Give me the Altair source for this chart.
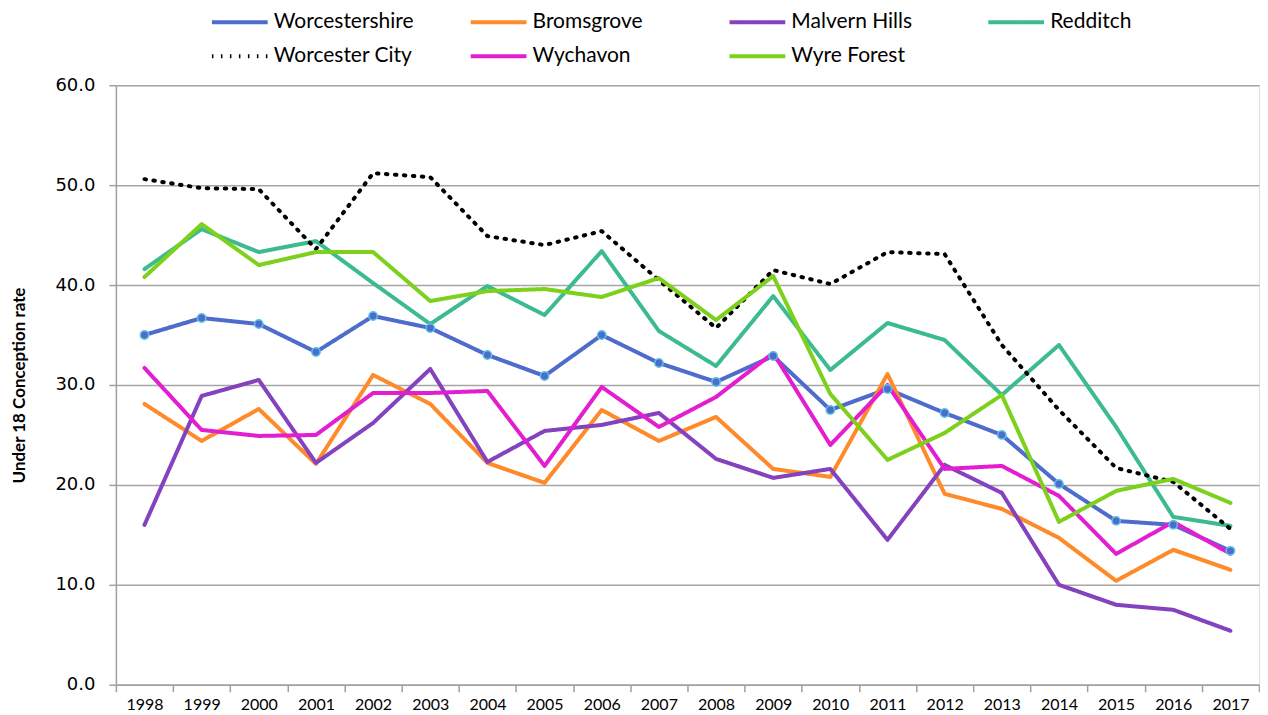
import altair as alt
import pandas as pd

years = [str(y) for y in range(1998, 2018)]

series = ["Worcestershire", "Bromsgrove", "Malvern Hills", "Redditch",
          "Worcester City", "Wychavon", "Wyre Forest"]

worcestershire = [35.0, 36.7, 36.1, 33.3, 36.9, 35.7, 33.0, 30.9, 35.0, 32.2,
                  30.3, 32.9, 27.5, 29.6, 27.2, 25.0, 20.1, 16.4, 16.0, 13.4]
bromsgrove = [28.1, 24.4, 27.6, 22.1, 31.0, 28.1, 22.2, 20.2, 27.5, 24.4,
              26.8, 21.6, 20.8, 31.1, 19.1, 17.6, 14.7, 10.4, 13.5, 11.5]
malvern_hills = [16.0, 28.9, 30.5, 22.2, 26.2, 31.6, 22.3, 25.4, 26.0, 27.2,
                 22.6, 20.7, 21.6, 14.5, 22.0, 19.2, 10.0, 8.0, 7.5, 5.4]
redditch = [41.6, 45.6, 43.3, 44.4, 40.2, 36.1, 39.9, 37.0, 43.4, 35.4,
            31.9, 38.9, 31.5, 36.2, 34.5, 29.0, 34.0, 25.8, 16.8, 15.9]
worcester_city = [50.6, 49.7, 49.6, 43.6, 51.2, 50.8, 44.9, 44.0, 45.4, 40.5,
                  35.7, 41.5, 40.1, 43.3, 43.1, 34.0, 27.5, 21.7, 20.3, 15.6]
wychavon = [31.7, 25.5, 24.9, 25.0, 29.2, 29.2, 29.4, 21.9, 29.8, 25.8,
            28.8, 33.2, 24.0, 30.0, 21.6, 21.9, 18.9, 13.1, 16.3, 13.1]
wyre_forest = [40.8, 46.1, 42.0, 43.3, 43.3, 38.4, 39.4, 39.6, 38.8, 40.7,
               36.5, 40.9, 29.1, 22.5, 25.2, 29.0, 16.3, 19.4, 20.6, 18.2]

values = [worcestershire, bromsgrove, malvern_hills, redditch,
          worcester_city, wychavon, wyre_forest]

colors = ["#4E6CCB", "#FF8A2A", "#8542BE", "#3CBB92", "#000000", "#E21ED0", "#7DD01C"]
dashes = [[1, 0], [1, 0], [1, 0], [1, 0], [1.5, 7.5], [1, 0], [1, 0]]

rows = []
for name, vals in zip(series, values):
    for yr, v in zip(years, vals):
        rows.append({"Series": name, "Year": yr, "Rate": v})
df = pd.DataFrame(rows)

FONT = "Lato, sans-serif"
NUMFONT = "DejaVu Sans, sans-serif"

legend = alt.Legend(
    title=None, orient="none", legendX=113, legendY=-74, columns=4,
    direction="horizontal", symbolType="M-3.1,0H3.1", symbolSize=324,
    symbolStrokeWidth=4, labelFontSize=21, labelFont=FONT, labelColor="#000000",
    labelOffset=23, columnPadding=49, rowPadding=13, labelLimit=300,
    gridAlign="all",
)

x = alt.X("Year:O", title=None,
          scale=alt.Scale(type="band", paddingInner=0, paddingOuter=0),
          axis=alt.Axis(labelAngle=0, tickBand="extent", labelFontSize=16,
                        labelFont=FONT, labelColor="#000000", domainColor="#A0A0A0",
                        tickColor="#A0A0A0", tickSize=7, tickWidth=1.5,
                        domainWidth=1.5, grid=False, labelPadding=5))
y = alt.Y("Rate:Q",
          scale=alt.Scale(domain=[0, 60], nice=False),
          axis=alt.Axis(title="Under 18 Conception rate", values=[0, 10, 20, 30, 40, 50, 60],
                        format=".1f", labelFontSize=18, labelFont=NUMFONT, labelColor="#000000",
                        titleFont=FONT, titleFontSize=17, titleFontWeight="bold",
                        titleColor="#000000", titlePadding=26,
                        domainColor="#A0A0A0", tickColor="#A0A0A0", tickSize=7,
                        tickWidth=1.5, domainWidth=1.5, labelPadding=14,
                        gridColor="#A6A6A6", gridWidth=1.5))

base = alt.Chart(df)

lines = base.mark_line(strokeWidth=4, strokeCap="round", strokeJoin="round").encode(
    x=x, y=y,
    color=alt.Color("Series:N", scale=alt.Scale(domain=series, range=colors), legend=legend),
    strokeDash=alt.StrokeDash("Series:N", scale=alt.Scale(domain=series, range=dashes), legend=legend),
)

points = base.transform_filter(alt.datum.Series == "Worcestershire").mark_point(
    filled=True, size=70, fill="#4E6CCB", stroke="#5BC3E6", strokeWidth=1.5, opacity=1
).encode(x=x, y=y)

chart = alt.layer(lines, points).properties(
    width=1144, height=600, padding={"left": 2, "top": 3, "right": 0, "bottom": 0}
).configure_view(stroke=None).configure(font=FONT, background="white")

chart.save("out.html", embed_options={"renderer": "svg", "actions": False})
